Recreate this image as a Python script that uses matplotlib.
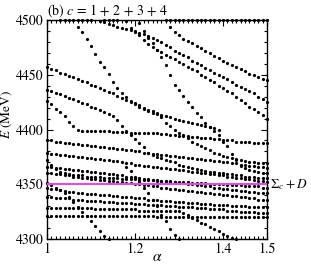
import numpy as np
import matplotlib.pyplot as plt
from matplotlib.ticker import MultipleLocator

plt.rcParams['font.family'] = 'STIXGeneral'
plt.rcParams['mathtext.fontset'] = 'stix'

# alpha grid of the calculation (step 0.01)
alpha = np.linspace(1.0, 1.5, 51)

# points sitting on the upper edge of the window
top_alpha = [1.03, 1.04, 1.05, 1.06, 1.07, 1.08, 1.09, 1.10, 1.13, 1.14, 1.15, 1.16,
             1.28, 1.29, 1.30, 1.31, 1.32, 1.33, 1.34, 1.35, 1.36, 1.37, 1.38, 1.39,
             1.40, 1.41, 1.42, 1.43, 1.44, 1.45, 1.46, 1.47, 1.48, 1.49, 1.50]

# energy levels (MeV), each from its first alpha on the grid
u1_start = 1.27
u1 = [4500, 4494, 4489, 4486, 4483, 4481, 4479, 4476, 4474, 4472, 4470, 4467, 4465, 4463,
      4461, 4459, 4457, 4455, 4453, 4451, 4450, 4448, 4446, 4445]
u2_start = 1.12
u2 = [4499, 4498, 4496, 4495, 4494, 4493, 4492, 4491, 4490, 4488, 4487, 4485, 4484, 4482,
      4480, 4477, 4475, 4472, 4470, 4468, 4466, 4463, 4461, 4459, 4456, 4454, 4452, 4450,
      4448, 4446, 4443, 4441, 4439, 4437, 4435, 4433, 4430, 4428, 4425]
u3_start = 1.18
u3 = [4499, 4493, 4489, 4486, 4482, 4478, 4475, 4473, 4471, 4468, 4466, 4464, 4462, 4460,
      4457, 4455, 4453, 4450, 4448, 4445, 4443, 4440, 4438, 4435, 4433, 4430, 4427, 4424,
      4421, 4419, 4416, 4413, 4410]
c2_start = 1.21
c2 = [4497, 4490, 4484, 4479, 4473, 4466, 4459, 4450, 4441, 4436, 4431, 4425, 4421, 4415,
      4411, 4406, 4402, 4399, 4395, 4389, 4385, 4378, 4372, 4367, 4365, 4363, 4362, 4361,
      4360, 4360]
c1_start = 1.07
c1 = [4494, 4489, 4483, 4476, 4469, 4462, 4457, 4451, 4443, 4438, 4433, 4430, 4426, 4423,
      4421, 4419, 4417, 4415, 4414, 4413, 4412, 4411, 4410, 4409, 4408, 4407, 4406, 4405,
      4404, 4403, 4402, 4401, 4400]
lb = [4457, 4455, 4454, 4452, 4451, 4449, 4448, 4446, 4444, 4443, 4441, 4440, 4438, 4436,
      4434, 4433, 4431, 4429, 4427, 4425, 4424, 4422, 4420, 4418, 4417, 4415, 4411, 4406,
      4403, 4400, 4397, 4395, 4392, 4389, 4387, 4385, 4383, 4381, 4379, 4378, 4376, 4375,
      4374, 4373, 4372, 4371, 4370, 4370, 4369, 4369, 4369]
lc = [4436, 4435, 4433, 4432, 4431, 4429, 4428, 4426, 4424, 4423, 4421, 4420, 4418, 4416,
      4414, 4412, 4409, 4403, 4399, 4395, 4391, 4388, 4384, 4379, 4377, 4375, 4374, 4372,
      4371, 4370, 4368, 4367, 4366, 4365, 4364, 4363, 4362, 4361, 4361, 4360, 4360, 4359,
      4359, 4358, 4358, 4357, 4357, 4357, 4356, 4356, 4356]
ld = [4426, 4423, 4419, 4416, 4412, 4407, 4403, 4400, 4399, 4399, 4399, 4399, 4399, 4399,
      4399, 4398, 4398, 4398, 4398, 4397, 4397, 4397, 4397, 4397, 4397, 4397, 4396, 4396,
      4395, 4395, 4394, 4394, 4394, 4393, 4393, 4392, 4392, 4392, 4391, 4391, 4390, 4390,
      4390, 4389, 4389, 4389, 4389, 4388, 4388, 4388, 4388]
r140 = [4390, 4390, 4389, 4389, 4388, 4388, 4387, 4387, 4386, 4386, 4385, 4385, 4384, 4384,
        4383, 4383, 4382, 4382, 4381, 4381, 4380, 4380, 4379, 4379, 4378, 4378, 4377, 4377,
        4376, 4376, 4375, 4375, 4374, 4374, 4373, 4373, 4372, 4372, 4371, 4371, 4370, 4370,
        4369, 4369, 4368, 4368, 4367, 4367, 4366, 4366, 4365]
r152 = [4379, 4378, 4378, 4377, 4377, 4376, 4376, 4375, 4375, 4374, 4374, 4373, 4373, 4372,
        4372, 4371, 4371, 4370, 4369, 4369, 4368, 4368, 4367, 4367, 4366, 4366, 4365, 4365,
        4364, 4364, 4363, 4363, 4362, 4361, 4361, 4360, 4360, 4359, 4359, 4358, 4358, 4357,
        4357, 4356, 4356, 4355, 4355, 4354, 4353, 4353, 4352]
r160 = [4372, 4368, 4364, 4361, 4360, 4359, 4358, 4358, 4358, 4357, 4357, 4357, 4357, 4356,
        4356, 4356, 4356, 4355, 4355, 4355, 4355, 4354, 4354, 4354, 4354, 4353, 4353, 4353,
        4353, 4352, 4352, 4352, 4352, 4351, 4351, 4351, 4351, 4350, 4350, 4350, 4350, 4349,
        4349, 4349, 4349, 4348, 4348, 4348, 4348, 4347, 4347]
r167 = [4366, 4366, 4365, 4365, 4364, 4364, 4363, 4363, 4362, 4362, 4361, 4361, 4360, 4360,
        4359, 4359, 4358, 4358, 4357, 4357, 4356, 4356, 4355, 4355, 4354, 4354, 4353, 4353,
        4352, 4352, 4351, 4351, 4350, 4350, 4349, 4349, 4348, 4348, 4347, 4347, 4346, 4346,
        4345, 4345, 4344, 4344, 4343, 4343, 4342, 4342, 4342]
r173 = [4360, 4360, 4359, 4359, 4358, 4358, 4357, 4357, 4356, 4356, 4355, 4355, 4354, 4354,
        4353, 4353, 4352, 4352, 4351, 4351, 4350, 4350, 4349, 4349, 4348, 4348, 4347, 4347,
        4346, 4346, 4345, 4345, 4344, 4344, 4343, 4343, 4342, 4342, 4341, 4341, 4340, 4340,
        4339, 4339, 4338, 4338, 4337, 4337, 4336, 4336, 4336]
s1 = [4351, 4349, 4347, 4345, 4342, 4338, 4334, 4329, 4325, 4321, 4316, 4312, 4307, 4303,
      4300]
r187 = [4347, 4346, 4346, 4345, 4344, 4343, 4343, 4342, 4342, 4341, 4341, 4341, 4340, 4340,
        4340, 4339, 4339, 4338, 4338, 4338, 4337, 4337, 4337, 4336, 4336, 4336, 4335, 4335,
        4335, 4334, 4334, 4334, 4333, 4333, 4333, 4332, 4332, 4332, 4331, 4331, 4331, 4331,
        4330, 4330, 4330, 4330, 4329, 4329, 4329, 4329, 4329]
r197 = [4338, 4338, 4337, 4337, 4337, 4337, 4336, 4336, 4336, 4335, 4335, 4335, 4335, 4334,
        4334, 4334, 4333, 4333, 4333, 4333, 4332, 4332, 4332, 4331, 4331, 4331, 4331, 4330,
        4330, 4330, 4329, 4329, 4329, 4329, 4328, 4328, 4328, 4327, 4327, 4327, 4327, 4326,
        4326, 4326, 4325, 4325, 4325, 4325, 4324, 4324, 4324]
r208 = [4328, 4328, 4328, 4328, 4328, 4328, 4328, 4328, 4328, 4328, 4328, 4327, 4327, 4327,
        4327, 4327, 4327, 4327, 4327, 4327, 4327, 4326, 4326, 4326, 4326, 4326, 4326, 4326,
        4326, 4326, 4326, 4324, 4322, 4319, 4317, 4315, 4314, 4311, 4309, 4307, 4305, 4303,
        4301, 4300]
r216 = [4321] * 25 + [4320] * 26
s3_start = 1.18
s3 = [4366, 4362, 4357, 4352, 4347, 4342, 4336, 4330, 4322, 4316, 4309, 4304, 4300]

levels = [(u1_start, u1), (u2_start, u2), (u3_start, u3), (c2_start, c2), (c1_start, c1),
          (1.0, lb), (1.0, lc), (1.0, ld), (1.0, r140), (1.0, r152), (1.0, r160),
          (1.0, r167), (1.0, r173), (1.0, s1), (1.0, r187), (1.0, r197), (1.0, r208),
          (1.0, r216), (s3_start, s3)]

threshold = 4350  # Sigma_c + D

fig = plt.figure(figsize=(3.11, 2.69), dpi=100)
ax = fig.add_axes([0.151, 0.1115, 0.7074, 0.8141])

for start, vals in levels:
    i = int(round((start - 1.0) * 100))
    ax.plot(alpha[i:i + len(vals)], vals, 'o', color='black', ms=2.3, mec='none',
            clip_on=False, zorder=2)
ax.plot(top_alpha, [4500] * len(top_alpha), 'o', color='black', ms=2.3, mec='none',
        clip_on=False, zorder=2)

ax.axhline(threshold, color='#e847e8', lw=1.5, zorder=3)
ax.text(1.508, threshold, r'$\Sigma_c + D$', va='center', ha='left', fontsize=9.5)

ax.set_xlim(1.0, 1.5)
ax.set_ylim(4300, 4500)
ax.set_xticks([1.0, 1.2, 1.4, 1.5])
ax.set_xticklabels(['1', '1.2', '1.4', '1.5'])
ax.set_yticks([4300, 4350, 4400, 4450, 4500])
ax.xaxis.set_minor_locator(MultipleLocator(0.01))
ax.yaxis.set_minor_locator(MultipleLocator(10))
ax.tick_params(which='both', direction='in', top=True, right=True, labelsize=10, width=0.8)
ax.tick_params(which='major', length=4, pad=2.5)
ax.tick_params(which='minor', length=2)
for s in ax.spines.values():
    s.set_linewidth(1.0)

ax.set_xlabel(r'$\alpha$', fontsize=11)
ax.xaxis.set_label_coords(0.5, -0.055)
ax.set_ylabel(r'$E$ (MeV)', fontsize=9.5)
ax.yaxis.set_label_coords(-0.15, 0.57)
ax.set_title(r'(b) $c$ = 1 + 2 + 3 + 4', fontsize=10, loc='left', pad=2)

fig.savefig('out.png', dpi=100)
